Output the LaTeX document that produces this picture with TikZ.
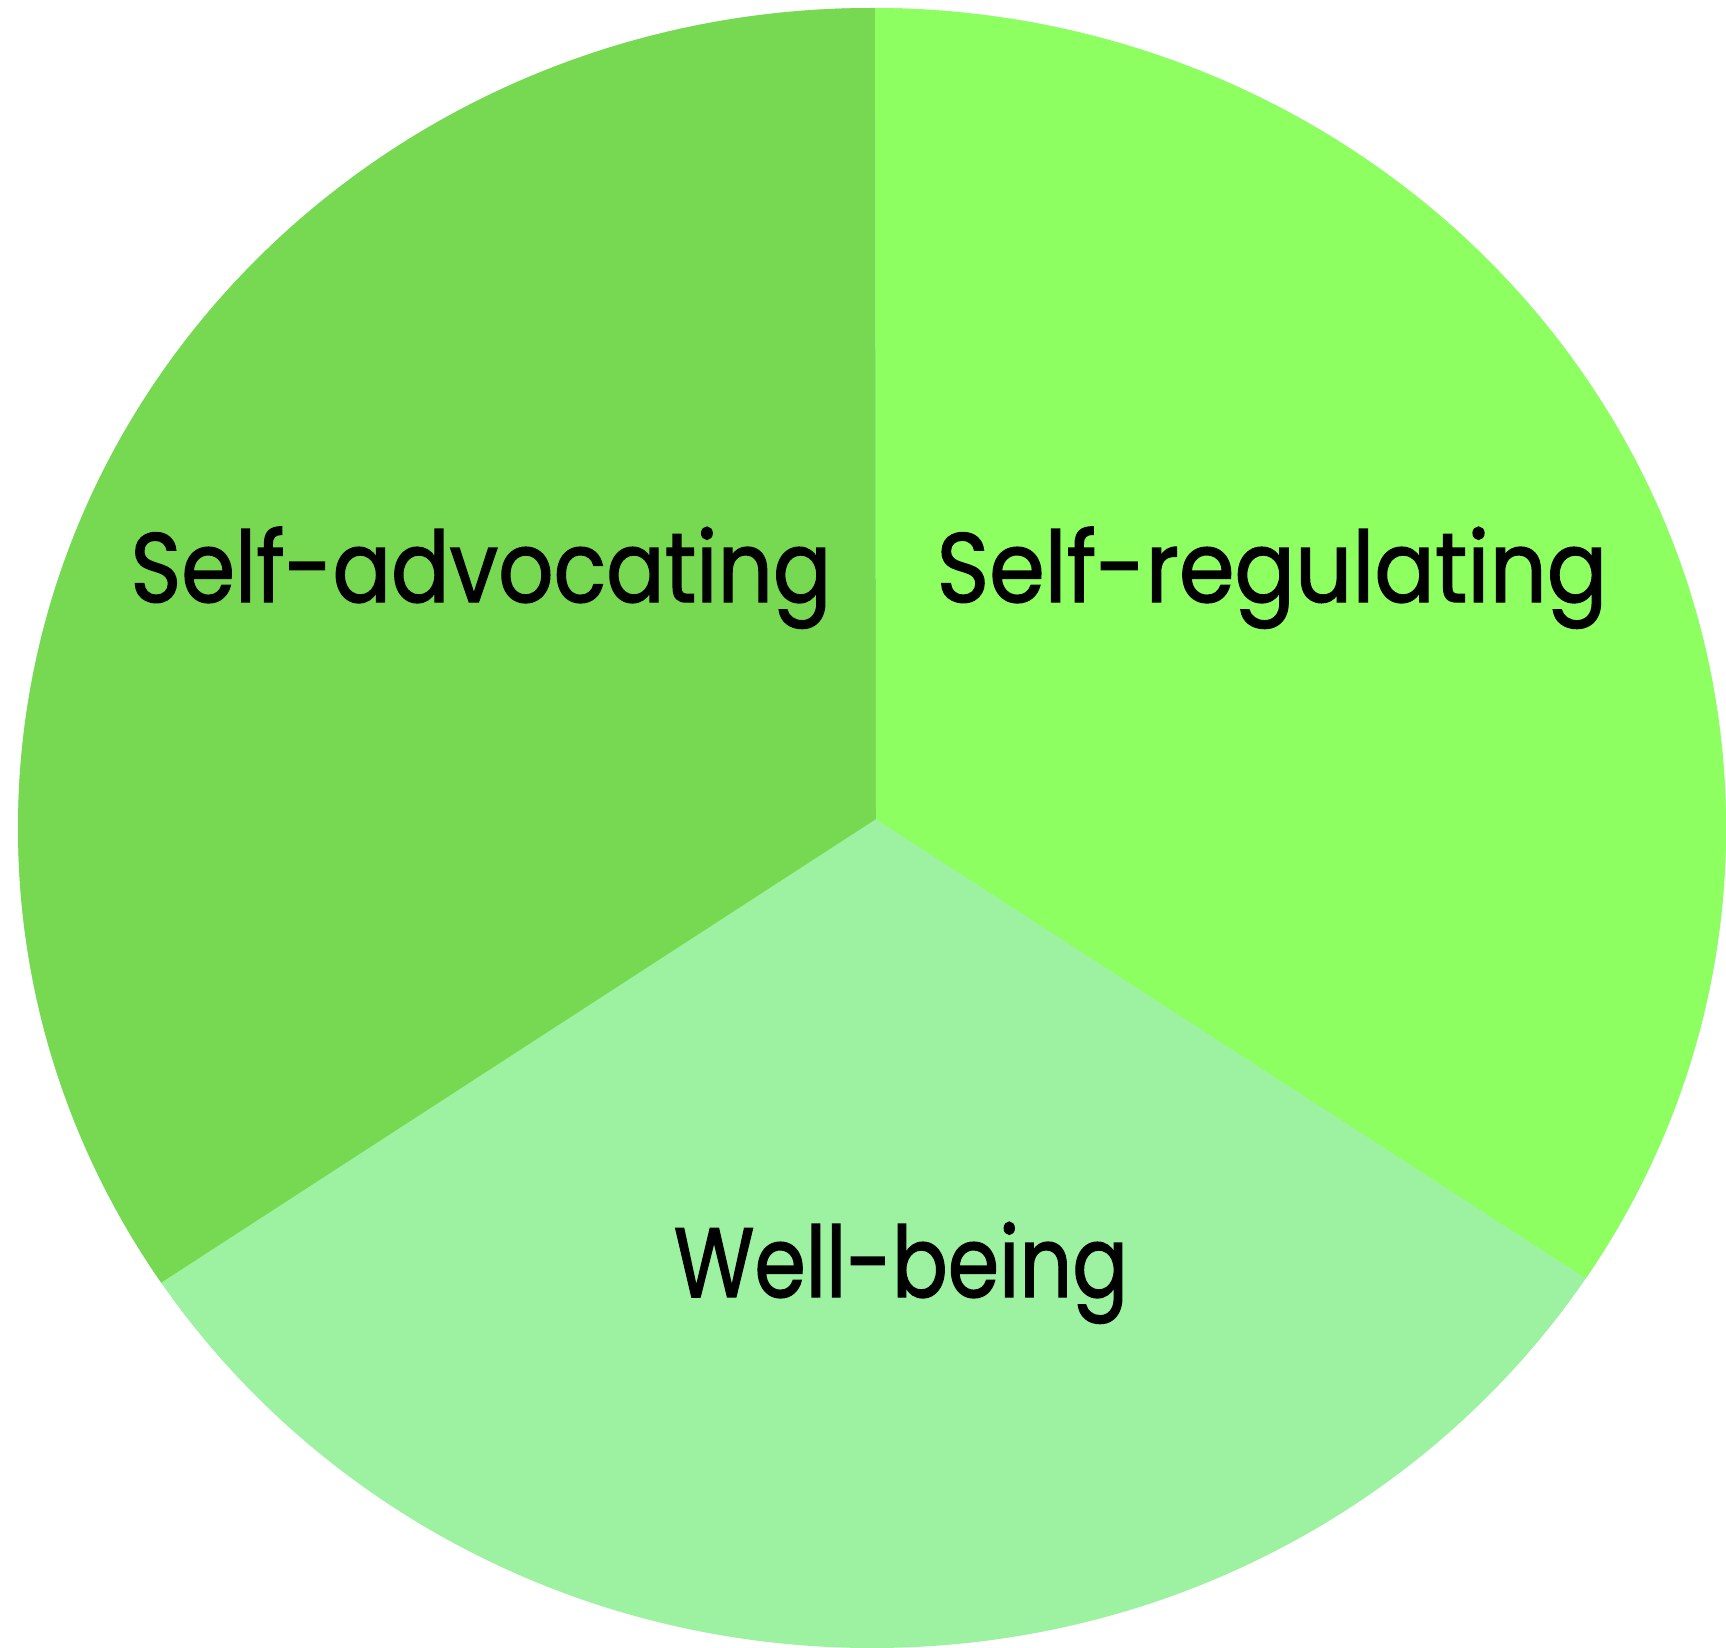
\documentclass[tikz,border=0pt]{standalone}
\usepackage{fontspec}
\setmainfont{Poppins}[FakeBold=1.5]
\definecolor{advocate}{HTML}{77D852}
\definecolor{regulate}{HTML}{8EFF60}
\definecolor{wellbeing}{HTML}{9CF2A0}
\tikzset{pielabel/.style={font=\fontsize{28}{34}\selectfont, text=black, inner sep=0pt, anchor=base}}
\newcommand{\pieshape}{(8.72,8.19) ellipse (8.54 and 8.20)}

\begin{document}
\begin{tikzpicture}
\useasboundingbox (0,0) rectangle (17.26,16.47);
\coordinate (mid) at (8.76,8.28);
\fill[wellbeing] \pieshape;
\begin{scope}
\clip (mid) -- (8.75,17.5) -- (-1,17.5) -- (-1,1.95) -- cycle;
\fill[advocate] \pieshape;
\end{scope}
\begin{scope}
\clip (mid) -- (8.75,17.5) -- (18.5,17.5) -- (18.5,1.98) -- cycle;
\fill[regulate] \pieshape;
\end{scope}
\node[pielabel, xscale=0.88] (adv) at (4.81,10.45) {Self-advocating};
\node[pielabel, xscale=0.91] (reg) at (12.72,10.45) {Self-regulating};
\node[pielabel, xscale=0.84] (well) at (9.01,3.50) {Well-being};
\end{tikzpicture}
\end{document}
